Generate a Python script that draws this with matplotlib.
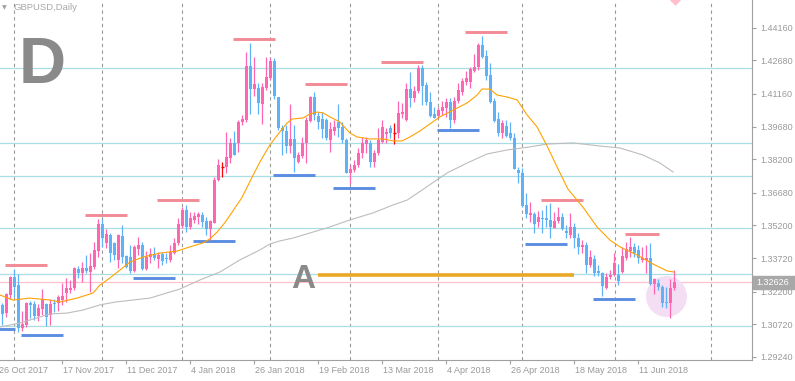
import numpy as np
import matplotlib
matplotlib.use("Agg")
import matplotlib.pyplot as plt
import matplotlib.transforms as mtransforms
from matplotlib.patches import Rectangle

plt.rcParams['font.family'] = ['Liberation Sans', 'DejaVu Sans']

# daily GBPUSD candles
opens = [1.3160, 1.3123, 1.3205, 1.3287, 1.3250, 1.3056, 1.3069, 1.3169, 1.3164, 1.3110,
         1.3142, 1.3164, 1.3114, 1.3169, 1.3169, 1.3182, 1.3214, 1.3228, 1.3237, 1.3323,
         1.3305, 1.3327, 1.3309, 1.3332, 1.3404, 1.3527, 1.3441, 1.3477, 1.3441, 1.3364,
         1.3472, 1.3382, 1.3377, 1.3314, 1.3413, 1.3432, 1.3323, 1.3377, 1.3391, 1.3368,
         1.3391, 1.3373, 1.3364, 1.3395, 1.3441, 1.3518, 1.3590, 1.3513, 1.3545, 1.3558,
         1.3567, 1.3540, 1.3504, 1.3531, 1.3726, 1.3785, 1.3785, 1.3826, 1.3894, 1.3894,
         1.3989, 1.3998, 1.4242, 1.4138, 1.4143, 1.4070, 1.4143, 1.4188, 1.4265, 1.4102,
         1.3962, 1.3948, 1.3880, 1.3912, 1.3808, 1.3835, 1.3894, 1.3993, 1.4102, 1.4016,
         1.4002, 1.3998, 1.3907, 1.3948, 1.3989, 1.3966, 1.3907, 1.3758, 1.3771, 1.3794,
         1.3848, 1.3889, 1.3894, 1.3808, 1.3848, 1.3898, 1.3934, 1.3962, 1.3939, 1.3939,
         1.4025, 1.3998, 1.4138, 1.4098, 1.4129, 1.4233, 1.4156, 1.4079, 1.4025, 1.4016,
         1.4039, 1.4052, 1.4079, 1.3998, 1.4084, 1.4125, 1.4170, 1.4170, 1.4220, 1.4238,
         1.4338, 1.4288, 1.4202, 1.4084, 1.4002, 1.3939, 1.3971, 1.3939, 1.3916, 1.3771,
         1.3758, 1.3613, 1.3567, 1.3572, 1.3536, 1.3554, 1.3554, 1.3545, 1.3509, 1.3540,
         1.3558, 1.3495, 1.3477, 1.3513, 1.3463, 1.3423, 1.3432, 1.3341, 1.3368, 1.3314,
         1.3305, 1.3237, 1.3287, 1.3296, 1.3296, 1.3309, 1.3373, 1.3404, 1.3423, 1.3409,
         1.3364, 1.3364, 1.3373, 1.3255, 1.3259, 1.3241, 1.3173, 1.3169, 1.3237]
highs = [1.3169, 1.3214, 1.3291, 1.3323, 1.3300, 1.3133, 1.3173, 1.3178, 1.3178, 1.3164,
         1.3232, 1.3169, 1.3187, 1.3187, 1.3205, 1.3259, 1.3282, 1.3273, 1.3332, 1.3336,
         1.3354, 1.3386, 1.3395, 1.3445, 1.3549, 1.3549, 1.3504, 1.3486, 1.3445, 1.3481,
         1.3522, 1.3386, 1.3432, 1.3432, 1.3468, 1.3445, 1.3404, 1.3418, 1.3423, 1.3400,
         1.3400, 1.3395, 1.3432, 1.3463, 1.3554, 1.3604, 1.3613, 1.3581, 1.3581, 1.3581,
         1.3581, 1.3558, 1.3545, 1.3740, 1.3821, 1.3808, 1.3944, 1.3916, 1.3948, 1.3998,
         1.4021, 1.4306, 1.4347, 1.4283, 1.4165, 1.4165, 1.4283, 1.4279, 1.4279, 1.4102,
         1.3975, 1.3975, 1.4070, 1.3975, 1.3853, 1.3921, 1.4012, 1.4107, 1.4125, 1.4034,
         1.4034, 1.4007, 1.3989, 1.3998, 1.4070, 1.3989, 1.3916, 1.3794, 1.3817, 1.3871,
         1.3921, 1.3921, 1.3907, 1.3862, 1.3962, 1.3998, 1.3962, 1.3975, 1.3984, 1.4084,
         1.4075, 1.4165, 1.4215, 1.4152, 1.4247, 1.4247, 1.4170, 1.4125, 1.4057, 1.4057,
         1.4084, 1.4098, 1.4098, 1.4102, 1.4165, 1.4188, 1.4220, 1.4238, 1.4297, 1.4347,
         1.4379, 1.4315, 1.4256, 1.4098, 1.4034, 1.3998, 1.3998, 1.3989, 1.3939, 1.3785,
         1.3780, 1.3667, 1.3626, 1.3581, 1.3586, 1.3590, 1.3613, 1.3622, 1.3581, 1.3604,
         1.3577, 1.3522, 1.3577, 1.3531, 1.3486, 1.3454, 1.3445, 1.3409, 1.3386, 1.3341,
         1.3309, 1.3305, 1.3318, 1.3395, 1.3345, 1.3423, 1.3445, 1.3468, 1.3441, 1.3432,
         1.3423, 1.3432, 1.3441, 1.3282, 1.3278, 1.3250, 1.3241, 1.3278, 1.3318]
lows = [1.3069, 1.3105, 1.3187, 1.3196, 1.3037, 1.3042, 1.3060, 1.3101, 1.3092, 1.3087,
        1.3114, 1.3065, 1.3069, 1.3128, 1.3133, 1.3160, 1.3173, 1.3214, 1.3228, 1.3282,
        1.3264, 1.3305, 1.3219, 1.3323, 1.3377, 1.3423, 1.3418, 1.3354, 1.3364, 1.3327,
        1.3350, 1.3327, 1.3305, 1.3309, 1.3386, 1.3318, 1.3318, 1.3350, 1.3364, 1.3327,
        1.3341, 1.3350, 1.3354, 1.3391, 1.3432, 1.3509, 1.3490, 1.3504, 1.3531, 1.3527,
        1.3513, 1.3477, 1.3454, 1.3531, 1.3722, 1.3740, 1.3758, 1.3803, 1.3839, 1.3853,
        1.3975, 1.3989, 1.4025, 1.4107, 1.4025, 1.3980, 1.4134, 1.4179, 1.4093, 1.3953,
        1.3839, 1.3848, 1.3848, 1.3762, 1.3803, 1.3826, 1.3803, 1.3989, 1.3998, 1.3957,
        1.3916, 1.3907, 1.3853, 1.3930, 1.3921, 1.3894, 1.3758, 1.3708, 1.3762, 1.3785,
        1.3826, 1.3848, 1.3785, 1.3785, 1.3839, 1.3894, 1.3894, 1.3916, 1.3889, 1.3916,
        1.4007, 1.3993, 1.4057, 1.4079, 1.4120, 1.4066, 1.4066, 1.4012, 1.4007, 1.4007,
        1.4021, 1.4012, 1.3962, 1.3984, 1.4075, 1.4111, 1.4156, 1.4143, 1.4215, 1.4224,
        1.4279, 1.4179, 1.4075, 1.3989, 1.3925, 1.3916, 1.3921, 1.3907, 1.3776, 1.3712,
        1.3604, 1.3554, 1.3536, 1.3486, 1.3513, 1.3486, 1.3513, 1.3463, 1.3509, 1.3531,
        1.3500, 1.3463, 1.3463, 1.3418, 1.3391, 1.3395, 1.3305, 1.3332, 1.3291, 1.3291,
        1.3200, 1.3232, 1.3278, 1.3291, 1.3250, 1.3305, 1.3364, 1.3377, 1.3377, 1.3350,
        1.3354, 1.3305, 1.3250, 1.3210, 1.3228, 1.3151, 1.3146, 1.3101, 1.3228]
closes = [1.3119, 1.3210, 1.3287, 1.3241, 1.3056, 1.3074, 1.3169, 1.3160, 1.3110, 1.3146,
          1.3187, 1.3105, 1.3164, 1.3164, 1.3196, 1.3200, 1.3237, 1.3237, 1.3327, 1.3305,
          1.3327, 1.3314, 1.3336, 1.3409, 1.3527, 1.3463, 1.3481, 1.3395, 1.3386, 1.3477,
          1.3377, 1.3332, 1.3314, 1.3423, 1.3432, 1.3323, 1.3377, 1.3391, 1.3373, 1.3386,
          1.3359, 1.3368, 1.3400, 1.3441, 1.3527, 1.3590, 1.3513, 1.3554, 1.3563, 1.3572,
          1.3536, 1.3504, 1.3540, 1.3726, 1.3794, 1.3785, 1.3830, 1.3894, 1.3839, 1.3989,
          1.4002, 1.4242, 1.4138, 1.4161, 1.4075, 1.4147, 1.4193, 1.4265, 1.4107, 1.3962,
          1.3948, 1.3880, 1.3912, 1.3826, 1.3839, 1.3894, 1.3998, 1.4102, 1.4021, 1.3989,
          1.3957, 1.3916, 1.3957, 1.3966, 1.3962, 1.3907, 1.3758, 1.3776, 1.3794, 1.3848,
          1.3894, 1.3907, 1.3808, 1.3848, 1.3907, 1.3966, 1.3944, 1.3939, 1.3939, 1.4030,
          1.4034, 1.4138, 1.4098, 1.4129, 1.4233, 1.4152, 1.4079, 1.4016, 1.4007, 1.4043,
          1.4057, 1.4079, 1.3998, 1.4084, 1.4134, 1.4175, 1.4188, 1.4229, 1.4238, 1.4338,
          1.4283, 1.4197, 1.4079, 1.3993, 1.3939, 1.3984, 1.3925, 1.3916, 1.3776, 1.3758,
          1.3608, 1.3572, 1.3577, 1.3527, 1.3558, 1.3549, 1.3545, 1.3513, 1.3540, 1.3558,
          1.3504, 1.3486, 1.3513, 1.3463, 1.3423, 1.3432, 1.3341, 1.3377, 1.3305, 1.3305,
          1.3246, 1.3287, 1.3296, 1.3350, 1.3268, 1.3382, 1.3413, 1.3423, 1.3395, 1.3373,
          1.3373, 1.3373, 1.3255, 1.3278, 1.3241, 1.3169, 1.3169, 1.3237, 1.3263]

date_pos = [-1, 15, 31, 47, 63, 79, 95, 111, 127, 143, 159]
date_labels = ['26 Oct 2017', '17 Nov 2017', '11 Dec 2017', '4 Jan 2018', '26 Jan 2018',
               '19 Feb 2018', '13 Mar 2018', '4 Apr 2018', '26 Apr 2018', '18 May 2018',
               '11 Jun 2018']
price_ticks = [1.44160, 1.42680, 1.41160, 1.39680, 1.38200, 1.36680,
               1.35200, 1.33720, 1.32200, 1.30720, 1.29240]
last_price = 1.32626

# moving averages (sampled along the drawn lines)
ma_fast_x = [-0.6, 2.7, 6.9, 11.9, 14.4, 18.7, 22.7, 24.4, 26.9, 29.4, 31.9, 35.2, 39.4,
             43.7, 46.9, 50.2, 51.9, 53.7, 55.7, 59.9, 61.9, 64.4, 66.9, 69.4, 71.2, 72.4,
             75.2, 76.9, 78.7, 80.2, 81.9, 84.4, 86.9, 88.7, 91.9, 95.2, 97.7, 99.9, 101.9,
             104.4, 106.9, 109.4, 112.7, 116.2, 118.7, 119.9, 121.9, 123.7, 126.2, 128.7,
             131.2, 133.7, 136.2, 138.7, 141.4, 145.2, 148.7, 151.9, 154.4, 158.7, 162.7,
             166.2, 167.9]
ma_fast_y = [1.3205, 1.3182, 1.3191, 1.3182, 1.3173, 1.3191, 1.3214, 1.3250, 1.3282, 1.3318,
             1.3354, 1.3377, 1.3395, 1.3404, 1.3423, 1.3441, 1.3459, 1.3490, 1.3534, 1.3646,
             1.3719, 1.3808, 1.3885, 1.3944, 1.3984, 1.4002, 1.4007, 1.4025, 1.4034, 1.4030,
             1.4012, 1.3989, 1.3939, 1.3921, 1.3912, 1.3912, 1.3903, 1.3903, 1.3921, 1.3948,
             1.3980, 1.4012, 1.4043, 1.4075, 1.4111, 1.4138, 1.4138, 1.4111, 1.4102, 1.4089,
             1.4021, 1.3966, 1.3880, 1.3785, 1.3685, 1.3602, 1.3513, 1.3454, 1.3423, 1.3386,
             1.3345, 1.3314, 1.3309]
ma_slow_x = [-0.6, 4.4, 7.7, 11.9, 16.2, 20.2, 24.4, 28.2, 36.9, 44.4, 49.4, 54.4, 59.4,
             64.4, 66.9, 69.4, 72.7, 76.9, 81.2, 86.9, 92.7, 97.7, 101.2, 104.9, 111.2,
             116.2, 121.2, 126.2, 131.9, 136.2, 142.7, 149.4, 154.4, 160.2, 164.4, 167.7]
ma_slow_y = [1.3060, 1.3078, 1.3096, 1.3119, 1.3123, 1.3137, 1.3160, 1.3173, 1.3191, 1.3232,
             1.3273, 1.3309, 1.3364, 1.3409, 1.3436, 1.3450, 1.3463, 1.3486, 1.3509, 1.3545,
             1.3577, 1.3613, 1.3635, 1.3680, 1.3758, 1.3803, 1.3844, 1.3862, 1.3876, 1.3889,
             1.3894, 1.3880, 1.3871, 1.3839, 1.3803, 1.3762]

cyan_levels = [1.4234, 1.3894, 1.3744, 1.3509, 1.3300, 1.3065]

res_start = [0.7, 20.7, 38.7, 57.7, 75.7, 94.7, 115.7, 134.7, 155.7]
res_end = [11.2, 31.2, 49.2, 68.2, 86.2, 105.2, 126.2, 145.2, 164.2]
res_price = [1.3341, 1.3567, 1.3635, 1.4365, 1.4161, 1.4261, 1.4397, 1.3635, 1.3481]
sup_start = [-3.0, 4.7, 32.7, 47.7, 67.7, 82.7, 108.7, 130.7, 147.7]
sup_end = [3.2, 15.2, 43.2, 58.2, 78.2, 93.2, 119.2, 141.2, 158.2]
sup_price = [1.3051, 1.3024, 1.3282, 1.3450, 1.3749, 1.3690, 1.3953, 1.3436, 1.3187]
a_start, a_end, a_price = 78.9, 142.9, 1.3295

grid_x = [2.9, 24.9, 44.9, 66.9, 86.9, 108.9, 129.9, 153.2, 177.2]
circle_x, circle_y = 165.9, 1.3200

fig = plt.figure(figsize=(7.95, 3.81), dpi=100)
ax = fig.add_axes([0, 21 / 381, 752 / 795, 360 / 381])
ax.set_xlim(-0.575, 187.425)
ax.set_ylim(1.29104, 1.45416)

for s in ['top', 'left']:
    ax.spines[s].set_visible(False)
for s in ['right', 'bottom']:
    ax.spines[s].set_color('#a0a0a0')
    ax.spines[s].set_linewidth(0.8)

# grid and horizontal levels
for gx in grid_x:
    ax.axvline(gx, color='#999999', lw=0.8, ls=(0, (3, 3)), zorder=0.5)
for lv in cyan_levels:
    ax.axhline(lv, color='#a9dfe4', lw=0.9, zorder=1)
ax.axhline(last_price, color='#ffc0cb', lw=0.9, zorder=1)

ax.hlines(res_price, res_start, res_end, color='#f28b95', lw=2.1, zorder=2)
ax.hlines(sup_price, sup_start, sup_end, color='#5b8ee0', lw=2.1, zorder=2)
ax.hlines(a_price, a_start, a_end, color='#e9a825', lw=2.6, zorder=2)

ax.scatter([circle_x], [circle_y], s=870, color='#f3def3', linewidths=0, zorder=2.5)

# candles
o = np.array(opens)
h = np.array(highs)
l = np.array(lows)
c = np.array(closes)
x = np.arange(len(o))
doji = np.isclose(o, c)
cols = np.where(c > o, '#ff66b2', '#5fb2f5')
cols = np.where(doji, '#ff0000', cols)

ax.vlines(x, l, h, colors=cols, lw=0.9, zorder=3)
body = np.maximum(np.abs(c - o), 0.00045)
ax.bar(x[~doji], body[~doji], bottom=np.minimum(o, c)[~doji], width=0.8,
       color=cols[~doji], linewidth=0, zorder=3)
ax.hlines(c[doji], x[doji] - 0.45, x[doji] + 0.45, colors='#ff0000', lw=1, zorder=3)

ax.plot(ma_slow_x, ma_slow_y, color='#bdbdbd', lw=0.8, zorder=4)
ax.plot(ma_fast_x, ma_fast_y, color='#ffa200', lw=0.8, zorder=4)

ax.scatter([168.2], [1.4542], marker='D', s=30, color='#ffc0cb', linewidths=0, zorder=4)

ax.text(4.2, 1.4166, 'D', fontsize=47, fontweight='bold', color='#8a8a8a',
        ha='left', va='baseline', zorder=5)
ax.text(72.2, 1.3237, 'A', fontsize=24, fontweight='bold', color='#8a8a8a',
        ha='left', va='baseline', zorder=5)

# axes ticks
ax.yaxis.tick_right()
ax.set_yticks(price_ticks)
ax.set_yticklabels(['%.5f' % p for p in price_ticks])
ax.tick_params(axis='y', colors='#a0a0a0', labelcolor='#999999', labelsize=6.5,
               length=3, width=0.8, pad=3)
ax.set_xticks(date_pos[1:])
ax.set_xticklabels([])
ax.tick_params(axis='x', colors='#a0a0a0', length=3, width=0.8)

xblend = mtransforms.blended_transform_factory(ax.transData, ax.transAxes)
for p, lab in zip(date_pos, date_labels):
    ax.text(p + 0.15, -0.028, lab, transform=xblend, ha='left', va='center',
            fontsize=6.5, color='#999999', clip_on=False)

yblend = mtransforms.blended_transform_factory(ax.transAxes, ax.transData)
ax.add_patch(Rectangle((1.0013, last_price - 0.00295), 0.06, 0.0059, transform=yblend,
                       color='#a8a8a8', clip_on=False, zorder=6))
ax.text(1.006, last_price, '%.5f' % last_price, transform=yblend, ha='left', va='center',
        fontsize=6.5, color='white', clip_on=False, zorder=7)

fig.text(2 / 795, 1 - 8 / 381, '\u25bc', fontsize=4.5, color='#a0a0a0', va='center',
         family='DejaVu Sans')
fig.text(13 / 795, 1 - 8 / 381, 'GBPUSD,Daily', fontsize=6.8, color='#a8a8a8', va='center')

fig.savefig('out.png', dpi=100)
